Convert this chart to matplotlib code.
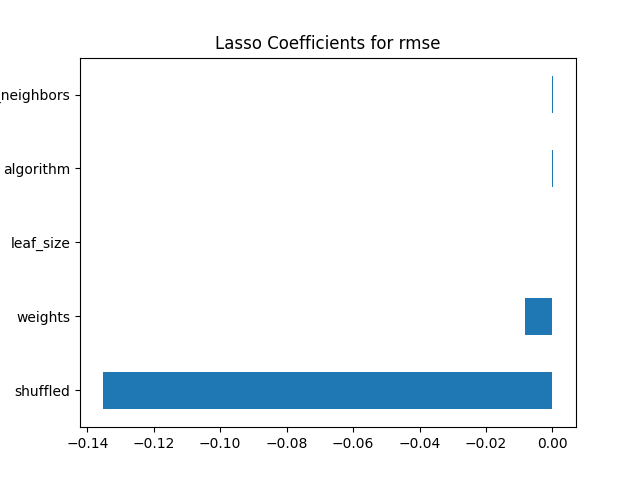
import pandas as pd
import matplotlib
matplotlib.use("Agg")
import matplotlib.pyplot as plt

features = ["shuffled", "weights", "leaf_size", "algorithm", "n_neighbors"]
coefs = [-0.1354, -0.0082, 0.0, 0.0003, 0.0003]

coef_series = pd.Series(coefs, index=features)

fig, ax = plt.subplots(figsize=(6.4, 4.8), dpi=100)
coef_series.plot(kind="barh", ax=ax)
ax.set_title("Lasso Coefficients for rmse")

fig.savefig("out.png", dpi=100)
